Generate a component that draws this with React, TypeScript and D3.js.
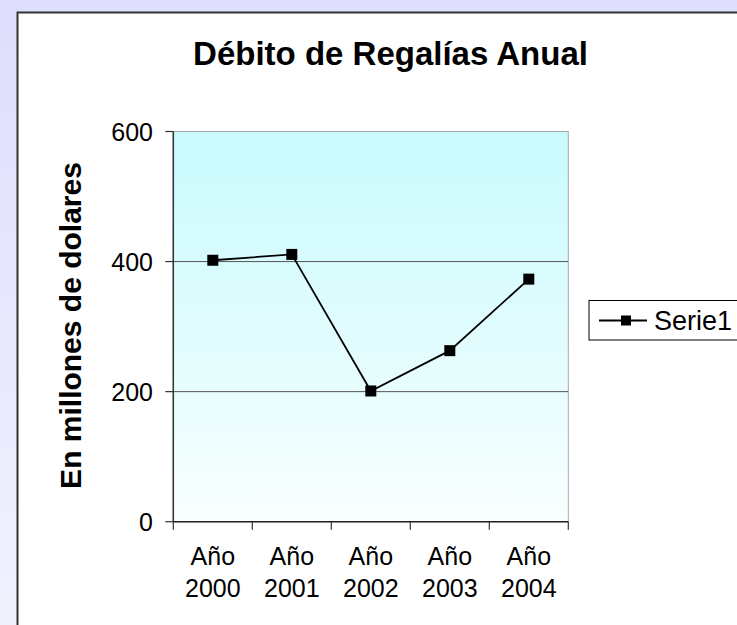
import React from "react";
import * as d3 from "d3";

const categories = ["2000", "2001", "2002", "2003", "2004"];
const categoryPrefix = "Año";
const serieValues = [402, 411, 201, 263, 373];
const yTicks = [0, 200, 400, 600];
const seriesName = "Serie1";
const title = "Débito de Regalías Anual";
const yLabel = "En millones de dolares";

const W = 737;
const H = 625;
const plot = { left: 173.3, right: 568.3, top: 131.5, bottom: 521.7 };
const FONT = "'Liberation Sans', Arial, sans-serif";

export default function App() {
  const x = d3.scaleBand<string>().domain(categories).range([plot.left, plot.right]);
  const y = d3.scaleLinear().domain([0, 600]).range([plot.bottom, plot.top]);
  const cx = (c: string) => (x(c) as number) + x.bandwidth() / 2;
  const line = d3
    .line<number>()
    .x((_, i) => cx(categories[i]))
    .y((d) => y(d));
  const xEdges = categories.map((c) => x(c) as number).concat([plot.right]);
  const ms = 11;

  return (
    <svg
      width={W}
      height={H}
      style={{ position: "absolute", left: 0, top: 0, display: "block" }}
      fontFamily={FONT}
    >
      <defs>
        <linearGradient id="bg" x1="0" y1="0" x2="0" y2="1">
          <stop offset="0" stopColor="#dedefd" />
          <stop offset="1" stopColor="#f1f1fe" />
        </linearGradient>
        <linearGradient id="plotbg" x1="0" y1="0" x2="0" y2="1">
          <stop offset="0" stopColor="#c8fafd" />
          <stop offset="1" stopColor="#f9ffff" />
        </linearGradient>
      </defs>
      <rect x={0} y={0} width={W} height={H} fill="url(#bg)" />
      <rect x={17.5} y={12.5} width={W} height={H} fill="#fff" stroke="#333" strokeWidth={2} />

      <text x={390.5} y={65} textAnchor="middle" fontWeight="bold" fontSize={33} fill="#000">
        {title}
      </text>

      <rect
        x={plot.left}
        y={plot.top}
        width={plot.right - plot.left}
        height={plot.bottom - plot.top}
        fill="url(#plotbg)"
        stroke="#a8a8a8"
        strokeWidth={1}
      />
      {yTicks
        .filter((t) => t > 0 && t < 600)
        .map((t) => (
          <line key={t} x1={plot.left} x2={plot.right} y1={y(t)} y2={y(t)} stroke="#555" strokeWidth={1} />
        ))}

      {/* y axis */}
      <line x1={plot.left} x2={plot.left} y1={plot.top} y2={plot.bottom} stroke="#333" strokeWidth={1.5} />
      {yTicks.map((t) => (
        <g key={t}>
          <line x1={plot.left - 8} x2={plot.left} y1={y(t)} y2={y(t)} stroke="#333" strokeWidth={1.2} />
          <text x={153} y={y(t) + 9} textAnchor="end" fontSize={25} fill="#000">
            {t}
          </text>
        </g>
      ))}

      {/* x axis */}
      <line x1={plot.left} x2={plot.right} y1={plot.bottom} y2={plot.bottom} stroke="#222" strokeWidth={1.5} />
      {xEdges.map((e, i) => (
        <line key={i} x1={e} x2={e} y1={plot.bottom} y2={plot.bottom + 8} stroke="#333" strokeWidth={1.2} />
      ))}
      {categories.map((c) => (
        <text key={c} x={cx(c)} textAnchor="middle" fontSize={25} fill="#000">
          <tspan x={cx(c)} y={565}>
            {categoryPrefix}
          </tspan>
          <tspan x={cx(c)} y={597}>
            {c}
          </tspan>
        </text>
      ))}

      <text
        transform={`translate(81,325.5) rotate(-90)`}
        textAnchor="middle"
        fontWeight="bold"
        fontSize={30}
        fill="#000"
      >
        {yLabel}
      </text>

      <path d={line(serieValues) || ""} fill="none" stroke="#000" strokeWidth={1.8} />
      {serieValues.map((v, i) => (
        <rect
          key={i}
          x={cx(categories[i]) - ms / 2}
          y={y(v) - ms / 2}
          width={ms}
          height={ms}
          fill="#000"
        />
      ))}

      {/* legend */}
      <rect x={589} y={300.5} width={200} height={39.5} fill="#fff" stroke="#000" strokeWidth={1} />
      <line x1={599} x2={647} y1={320.5} y2={320.5} stroke="#000" strokeWidth={1.8} />
      <rect x={621} y={315.5} width={10} height={10} fill="#000" />
      <text x={654} y={330} fontSize={27} fill="#000">
        {seriesName}
      </text>
    </svg>
  );
}
